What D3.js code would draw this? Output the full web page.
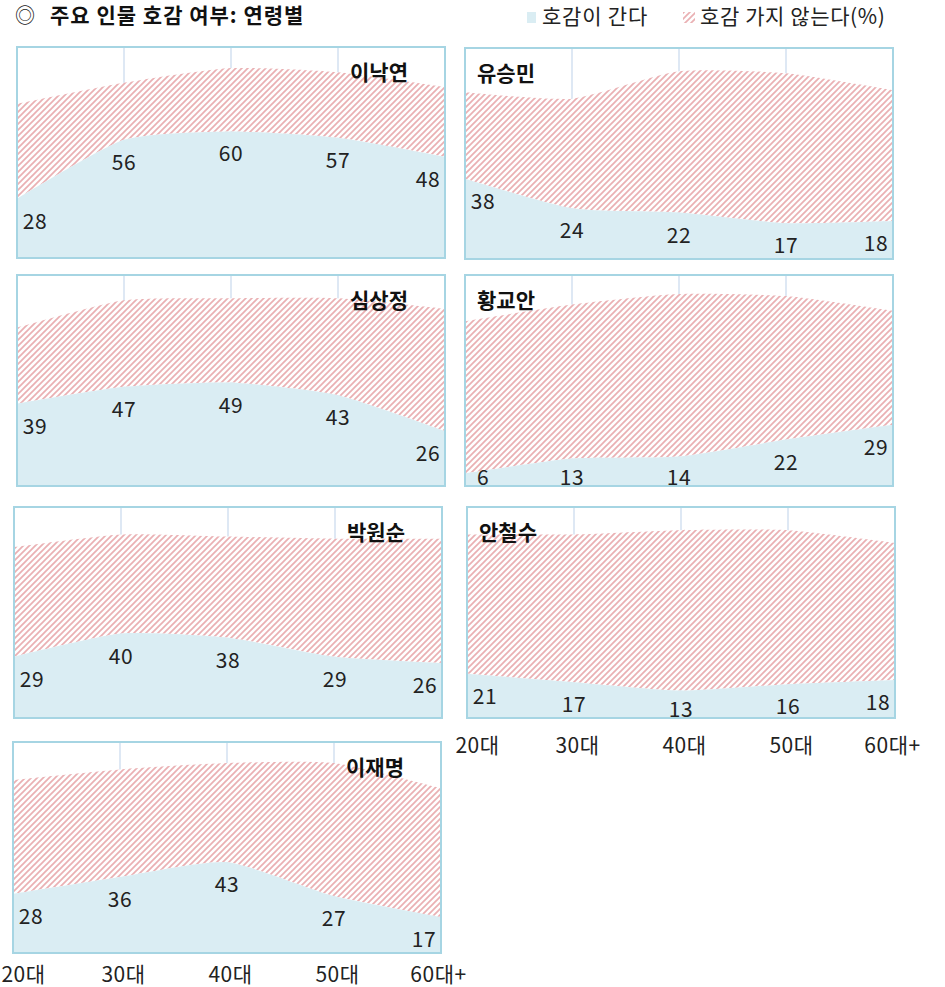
<!DOCTYPE html>
<html>
<head>
<meta charset="utf-8">
<script src="https://cdn.jsdelivr.net/npm/d3@7"></script>
<style>
  body { margin: 0; background: #fff; }
  svg { display: block; font-family: "Noto Sans CJK KR", "Noto Sans", sans-serif; }
</style>
</head>
<body>
<script>
// data (percent)
const title = "주요 인물 호감 여부: 연령별";
const legendLabels = ["호감이 간다", "호감 가지 않는다(%)"];
const ages = ["20대", "30대", "40대", "50대", "60대+"];
const names = ["이낙연", "유승민", "심상정", "황교안", "박원순", "안철수", "이재명"];
const favorable = [
    [28, 56, 60, 57, 48],
    [38, 24, 22, 17, 18],
    [39, 47, 49, 43, 26],
    [6, 13, 14, 22, 29],
    [29, 40, 38, 29, 26],
    [21, 17, 13, 16, 18],
    [28, 36, 43, 27, 17]
];
const unfavorable = [
    [45, 27, 30, 31, 33],
    [41, 52, 67, 71, 62],
    [36, 41, 40, 46, 58],
    [72, 73, 77, 68, 54],
    [52, 47, 48, 56, 59],
    [66, 70, 76, 73, 65],
    [54, 51, 47, 63, 61]
];

// layout
const W = 945, H = 987;
const pw = 428, ph = 211;
const panelPos = [[17, 47], [465, 48], [17, 275], [465, 275], [14, 507], [467, 507], [13, 742]];
const axisGap = { 5: 35, 6: 29 };   // panels that carry the age axis
const blue = "#daedf3", border = "#a6d5e3", grid = "#d3e0f0", ink = "#222";

const svg = d3.select("body").append("svg").attr("width", W).attr("height", H);

// hatch pattern
const pat = svg.append("defs").append("pattern")
    .attr("id", "hatch").attr("patternUnits", "userSpaceOnUse")
    .attr("width", 6).attr("height", 6);
pat.append("rect").attr("width", 6).attr("height", 6).attr("fill", "#fff");
pat.append("path")
    .attr("d", "M0,6 L6,0 M-1.5,1.5 L1.5,-1.5 M4.5,7.5 L7.5,4.5")
    .attr("stroke", "#eab0b3").attr("stroke-width", 1.7);

// title + legend
svg.append("text").attr("x", 15).attr("y", 23).attr("font-size", 20).attr("fill", ink).text("◎");
svg.append("text").attr("x", 50).attr("y", 23).attr("font-size", 21).attr("font-weight", "bold")
    .attr("letter-spacing", 1).attr("fill", "#111").text(title);
svg.append("rect").attr("x", 527).attr("y", 12).attr("width", 9).attr("height", 11).attr("fill", blue);
svg.append("text").attr("x", 542).attr("y", 24).attr("font-size", 21).attr("letter-spacing", 0.8)
    .attr("fill", ink).text(legendLabels[0]);
svg.append("rect").attr("x", 683).attr("y", 12).attr("width", 12).attr("height", 11).attr("fill", "url(#hatch)");
svg.append("text").attr("x", 700).attr("y", 24).attr("font-size", 21).attr("letter-spacing", 0.6)
    .attr("fill", ink).text(legendLabels[1]);

const x = d3.scalePoint().domain(ages).range([0, pw]);
const y = d3.scaleLinear().domain([0, 100]).range([ph, 0]);
const curve = d3.curveCardinal.tension(0.4);

names.forEach((name, k) => {
    const g = svg.append("g").attr("transform", "translate(" + panelPos[k][0] + "," + panelPos[k][1] + ")");
    const rows = ages.map((a, i) => ({ age: a, fav: favorable[k][i], unfav: unfavorable[k][i] }));

    // vertical grid
    g.selectAll(".grid").data(ages.slice(1, -1)).join("line")
        .attr("x1", d => x(d)).attr("x2", d => x(d))
        .attr("y1", 0).attr("y2", ph)
        .attr("stroke", grid).attr("stroke-width", 1.5);

    const hatchArea = d3.area().curve(curve)
        .x(d => x(d.age)).y0(d => y(d.fav)).y1(d => y(d.fav + d.unfav));
    const favArea = d3.area().curve(curve)
        .x(d => x(d.age)).y0(y(0)).y1(d => y(d.fav));

    g.append("path").datum(rows).attr("d", hatchArea).attr("fill", "url(#hatch)");
    g.append("path").datum(rows).attr("d", favArea).attr("fill", blue);

    // frame
    g.append("rect").attr("width", pw).attr("height", ph)
        .attr("fill", "none").attr("stroke", border).attr("stroke-width", 2);

    // name
    const left = k % 2 == 0;
    g.append("text")
        .attr("x", left ? pw - 37 : 12).attr("y", 33)
        .attr("text-anchor", left ? "end" : "start")
        .attr("font-size", 21).attr("font-weight", "bold").attr("fill", "#111")
        .text(name);

    // values
    g.selectAll(".val").data(rows).join("text")
        .attr("x", (d, i) => x(d.age) + (i == 0 ? 18 : i == ages.length - 1 ? -17 : 0))
        .attr("y", d => Math.min(y(d.fav) + 30, ph - 1))
        .attr("text-anchor", "middle").attr("font-size", 21).attr("letter-spacing", 0.5).attr("fill", ink)
        .text(d => d.fav);

    // age axis
    if (axisGap[k] !== undefined) {
        const ax = g.append("g").attr("transform", "translate(0," + (ph + axisGap[k] - 16) + ")")
            .call(d3.axisBottom(x).tickSize(0).tickPadding(0));
        ax.select(".domain").remove();
        ax.selectAll(".tick text")
            .attr("font-size", 21).attr("font-family", "Noto Sans CJK KR, sans-serif").attr("fill", ink)
            .attr("letter-spacing", 0.5)
            .attr("dy", 0).attr("y", 16)
            .attr("dx", (d, i) => i == 0 ? 10 : i == ages.length - 1 ? -3 : 3);
    }
});
</script>
</body>
</html>
